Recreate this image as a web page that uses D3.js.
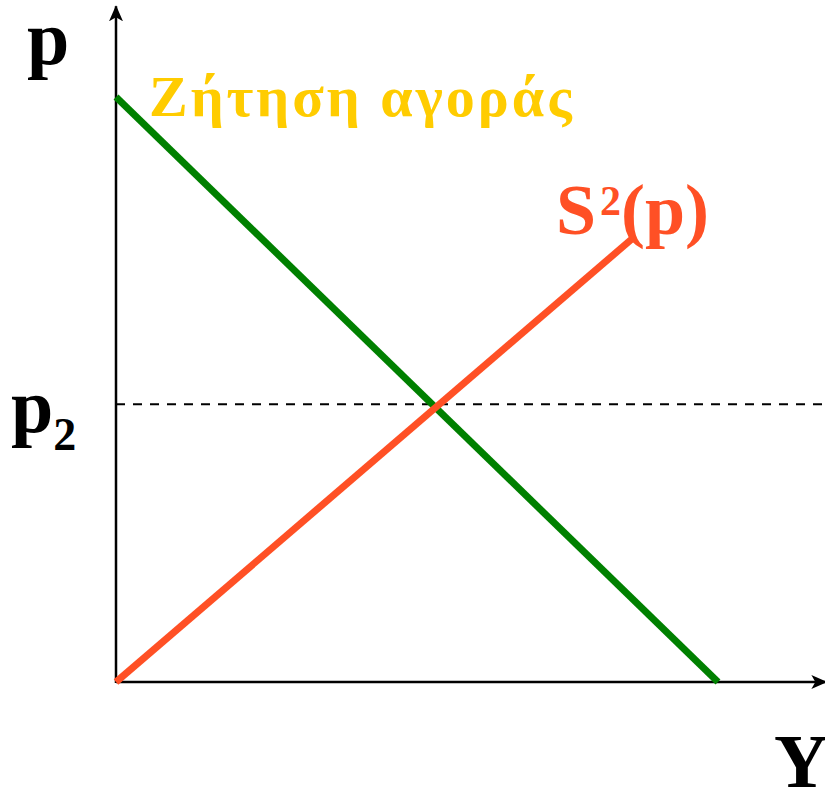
<!DOCTYPE html>
<html>
<head>
<meta charset="utf-8">
<script src="https://cdn.jsdelivr.net/npm/d3@7.9.0/dist/d3.min.js"></script>
<style>
  html, body { margin: 0; padding: 0; background: #fff; }
  svg { display: block; }
  text { font-family: "Liberation Serif", "Times New Roman", serif; font-weight: bold; }
</style>
</head>
<body>
<svg id="chart" width="825" height="787"></svg>
<script>
// curves in chart units (quantity, price)
const demandPoints = [[0, 100], [100, 0]];
const supplyPoints = [[0, 0], [86, 76]];
const priceLevel = 47.5; // p2
const axisEnds = { x: 118, y: 115.5 };

const width = 825, height = 787;
const svg = d3.select('#chart');

const x = d3.scaleLinear().domain([0, 100]).range([116, 718]);
const y = d3.scaleLinear().domain([0, 100]).range([682, 97]);

const line = d3.line().x(d => x(d[0])).y(d => y(d[1]));

// arrow head
svg.append('defs').append('marker')
    .attr('id', 'arrow')
    .attr('viewBox', '0 0 16 16')
    .attr('refX', 15).attr('refY', 8)
    .attr('markerWidth', 16).attr('markerHeight', 16)
    .attr('markerUnits', 'userSpaceOnUse')
    .attr('orient', 'auto')
    .append('path')
    .attr('d', 'M0,1 L16,8 L0,15 L4,8 Z')
    .attr('fill', '#000');

// axes
svg.append('line')
    .attr('x1', x(0)).attr('y1', y(0))
    .attr('x2', x(axisEnds.x)).attr('y2', y(0))
    .attr('stroke', '#000').attr('stroke-width', 2.5)
    .attr('marker-end', 'url(#arrow)');
svg.append('line')
    .attr('x1', x(0)).attr('y1', y(0) + 1)
    .attr('x2', x(0)).attr('y2', y(axisEnds.y))
    .attr('stroke', '#000').attr('stroke-width', 2.5)
    .attr('marker-end', 'url(#arrow)');

// p2 dashed level
svg.append('line')
    .attr('x1', x(0)).attr('y1', y(priceLevel))
    .attr('x2', width).attr('y2', y(priceLevel))
    .attr('stroke', '#000').attr('stroke-width', 2)
    .attr('stroke-dasharray', '9,8');

// demand (green) and supply (red)
svg.append('path')
    .attr('d', line(demandPoints))
    .attr('fill', 'none').attr('stroke', '#008000').attr('stroke-width', 7);
svg.append('path')
    .attr('d', line(supplyPoints))
    .attr('fill', 'none').attr('stroke', '#FF5025').attr('stroke-width', 7);

// labels
svg.append('text').attr('x', 27).attr('y', 64)
    .attr('font-size', 76).attr('fill', '#000').text('p');

svg.append('text').attr('x', 149).attr('y', 116)
    .attr('font-size', 58).attr('letter-spacing', 3)
    .attr('fill', '#FFCC00').text('Ζήτηση αγοράς');

const sLabel = svg.append('text').attr('x', 556).attr('y', 234)
    .attr('font-size', 72).attr('fill', '#FF5025');
sLabel.append('tspan').text('S');
sLabel.append('tspan').attr('font-size', 42).attr('dx', 4).attr('dy', -19).text('2');
sLabel.append('tspan').attr('dy', 19).text('(p)');

const p2Label = svg.append('text').attr('x', 11).attr('y', 432)
    .attr('font-size', 76).attr('fill', '#000');
p2Label.append('tspan').text('p');
p2Label.append('tspan').attr('font-size', 46).attr('dy', 18).text('2');

svg.append('text').attr('x', 774).attr('y', 787)
    .attr('font-size', 76).attr('fill', '#000').text('Y');
</script>
</body>
</html>
